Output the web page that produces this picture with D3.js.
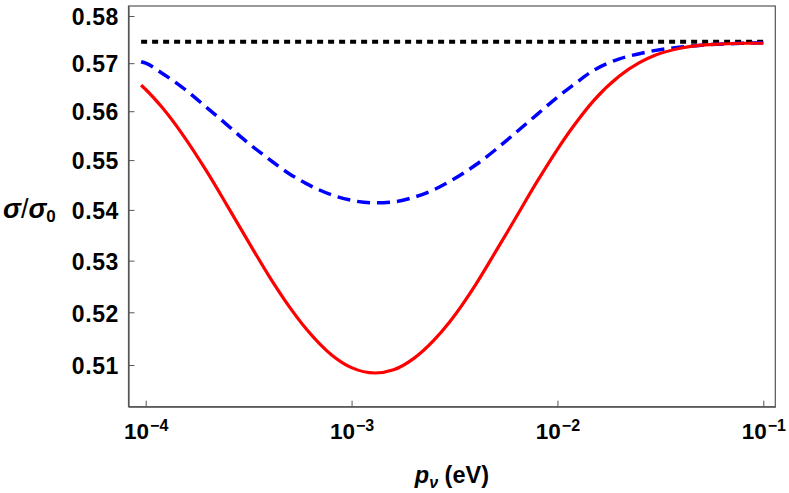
<!DOCTYPE html>
<html>
<head>
<meta charset="utf-8">
<script src="https://cdn.jsdelivr.net/npm/d3@7"></script>
<style>
  body { margin: 0; background: #fff; }
  svg { display: block; }
  text { font-family: "Liberation Sans", Arial, sans-serif; font-weight: bold; fill: #000; }
</style>
</head>
<body>
<div id="chart"></div>
<script>
// momentum values (eV) at which the curves were read
const pValues = [0.000095, 0.0001, 0.00012, 0.00015, 0.0002, 0.00025, 0.0003, 0.0004, 0.0005, 0.0006, 0.0008,
  0.001, 0.0013, 0.0016, 0.002, 0.0025, 0.003, 0.004, 0.005, 0.006, 0.008,
  0.01, 0.012, 0.015, 0.02, 0.025, 0.03, 0.04, 0.05, 0.06, 0.08, 0.1];

// red solid curve
const redValues = [0.5654, 0.5645, 0.5608, 0.5554, 0.5474, 0.5407, 0.5352, 0.5268, 0.5210, 0.5169, 0.5119,
  0.5095, 0.5085, 0.5091, 0.5112, 0.5146, 0.5182, 0.5253, 0.5317, 0.5371, 0.5458,
  0.5522, 0.5570, 0.5622, 0.5673, 0.5701, 0.5717, 0.5732, 0.5738, 0.5740, 0.5742, 0.5742];

// blue dashed curve
const blueValues = [0.5703, 0.5700, 0.5679, 0.5650, 0.5606, 0.5571, 0.5542, 0.5501, 0.5472, 0.5453, 0.5430,
  0.5419, 0.5414, 0.5416, 0.5425, 0.5440, 0.5457, 0.5490, 0.5521, 0.5549, 0.5594,
  0.5629, 0.5655, 0.5685, 0.5709, 0.5720, 0.5727, 0.5734, 0.5738, 0.5740, 0.5742, 0.5743];

// black dotted limit
const limitValue = 0.5745;
const limitRange = [0.000095, 0.1];

const yTicks = [0.51, 0.52, 0.53, 0.54, 0.55, 0.56, 0.57, 0.58];
const xTicks = [1e-4, 1e-3, 1e-2, 1e-1];

const w = 789;
const h = 493;
const margin = { left: 128.5, right: 13.7, top: 6, bottom: 86.3 };
const innerW = w - margin.left - margin.right;
const innerH = h - margin.top - margin.bottom;

const frameColor = "#555";

const xScale = d3.scaleLog()
  .domain([8.25e-5, 0.11435])
  .range([0, innerW]);

const yScale = d3.scaleLog()
  .domain([0.50222, 0.58214])
  .range([innerH, 0]);

const svg = d3.select("#chart")
  .append("svg")
  .attr("width", w)
  .attr("height", h);

const g = svg.append("g")
  .attr("transform", `translate(${margin.left},${margin.top})`);

// frame
g.append("rect")
  .attr("x", 0)
  .attr("y", 0)
  .attr("width", innerW)
  .attr("height", innerH)
  .attr("fill", "none")
  .attr("stroke", frameColor)
  .attr("stroke-width", 1.2);

// x axis
const xAxis = d3.axisBottom(xScale)
  .tickValues(xTicks)
  .tickSizeInner(-6)
  .tickSizeOuter(0)
  .tickFormat("");

const xg = g.append("g")
  .attr("transform", `translate(0,${innerH})`)
  .call(xAxis);
xg.select(".domain").attr("stroke", frameColor).attr("stroke-width", 1.2);
xg.selectAll(".tick line").attr("stroke", frameColor);
xg.selectAll(".tick").each(function (d) {
  const t = d3.select(this).select("text");
  t.text(null)
    .attr("y", 32.6)
    .attr("dy", null)
    .style("font-size", "22.5px")
    .attr("text-anchor", "middle");
  t.append("tspan").text("10");
  t.append("tspan")
    .attr("dy", -8.6)
    .attr("dx", 1)
    .style("font-size", "16px")
    .text("\u2212" + Math.round(-Math.log10(d)));
});

// y axis
const yAxis = d3.axisLeft(yScale)
  .tickValues(yTicks)
  .tickSizeInner(-6)
  .tickSizeOuter(0)
  .tickPadding(9.5)
  .tickFormat(d3.format(".2f"));

const yg = g.append("g").call(yAxis);
yg.select(".domain").attr("stroke", frameColor).attr("stroke-width", 1.2);
yg.selectAll(".tick line").attr("stroke", frameColor);
yg.selectAll(".tick text")
  .attr("x", -9.5)
  .style("font-size", "23px")
  .style("letter-spacing", "0.6px")
  .attr("dy", "0.38em");

// curves
const line = d3.line()
  .x((d, i) => xScale(pValues[i]))
  .y(d => yScale(d))
  .curve(d3.curveMonotoneX);

g.append("path")
  .datum(limitRange)
  .attr("d", d3.line().x(d => xScale(d)).y(() => yScale(limitValue)))
  .attr("fill", "none")
  .attr("stroke", "#000")
  .attr("stroke-width", 4)
  .attr("stroke-dasharray", "6,5");

g.append("path")
  .datum(blueValues)
  .attr("d", line)
  .attr("fill", "none")
  .attr("stroke", "#0000ff")
  .attr("stroke-width", 3.5)
  .attr("stroke-dasharray", "13,7");

g.append("path")
  .datum(redValues)
  .attr("d", line)
  .attr("fill", "none")
  .attr("stroke", "#ff0000")
  .attr("stroke-width", 3.2);

// axis labels
const xLabel = svg.append("text")
  .attr("x", margin.left + innerW / 2)
  .attr("y", 483)
  .attr("text-anchor", "middle")
  .style("font-size", "23.5px");
xLabel.append("tspan").style("font-style", "italic").text("p");
xLabel.append("tspan").style("font-style", "italic").style("font-size", "16px").attr("dy", 5).text("\u03bd");
xLabel.append("tspan").attr("dy", -5).text(" (eV)");

const yLabel = svg.append("text")
  .attr("x", 3)
  .attr("y", 218)
  .style("font-size", "27px");
yLabel.append("tspan").style("font-style", "italic").text("\u03c3");
yLabel.append("tspan").style("font-weight", "normal").text("/");
yLabel.append("tspan").style("font-style", "italic").text("\u03c3");
yLabel.append("tspan").style("font-size", "17px").attr("dy", 4).text("0");
</script>
</body>
</html>
